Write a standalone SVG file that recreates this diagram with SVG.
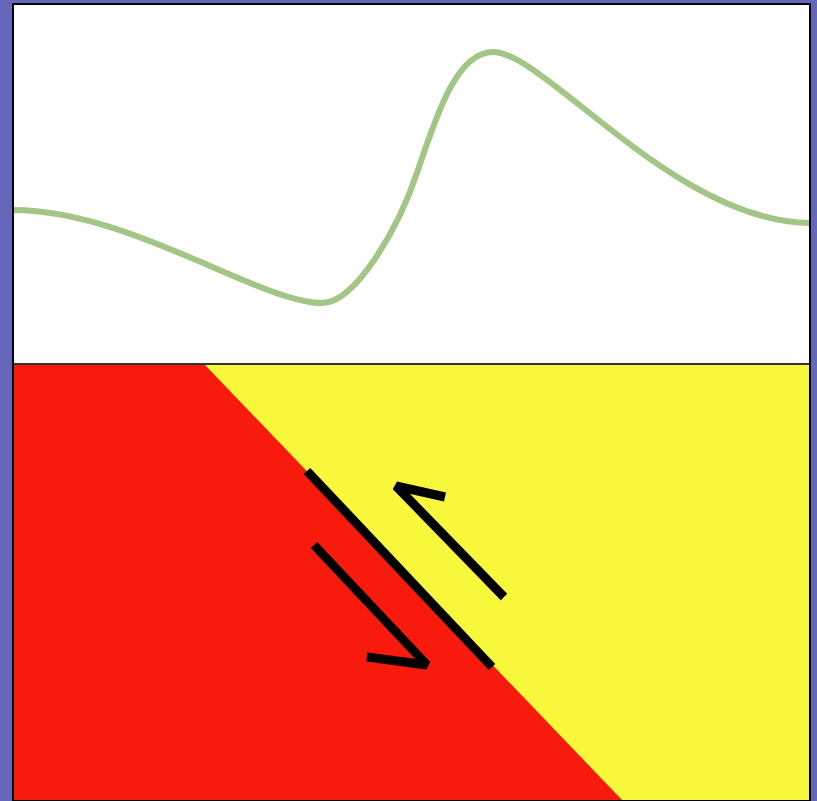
<svg xmlns="http://www.w3.org/2000/svg" width="817" height="801" viewBox="0 0 817 801">
<style>
.mark{fill:none;stroke:#000;stroke-width:9;stroke-linecap:butt;stroke-linejoin:bevel}
</style>
<rect x="0" y="0" width="817" height="801" fill="#6566b9"/>
<g id="profile-panel">
<rect x="13" y="4" width="797" height="360" fill="#fff"/>
<path d="M13,210 C130,210 260,303 322,303 C355,303 398,230 418,170 C438,110 458,52 493,52 C545,52 675,222 810,223" fill="none" stroke="#a3c585" stroke-width="6"/>
</g>
<g id="fault-panel">
<rect x="13" y="364" width="797" height="437" fill="#f7f73c"/>
<polygon points="13,365 205,365 623,801 13,801" fill="#f91a0e"/>
</g>
<g id="connectors">
<line class="mark" x1="307" y1="471" x2="492" y2="667"/>
<polyline class="mark" points="504,597 396,486 445,497"/>
<polyline class="mark" points="314,545 427,665 367,657"/>
</g>
<line x1="13" y1="364" x2="810" y2="364" stroke="#333" stroke-width="2"/>
<rect x="13" y="4" width="797" height="797" fill="none" stroke="#000" stroke-width="2"/>
</svg>
